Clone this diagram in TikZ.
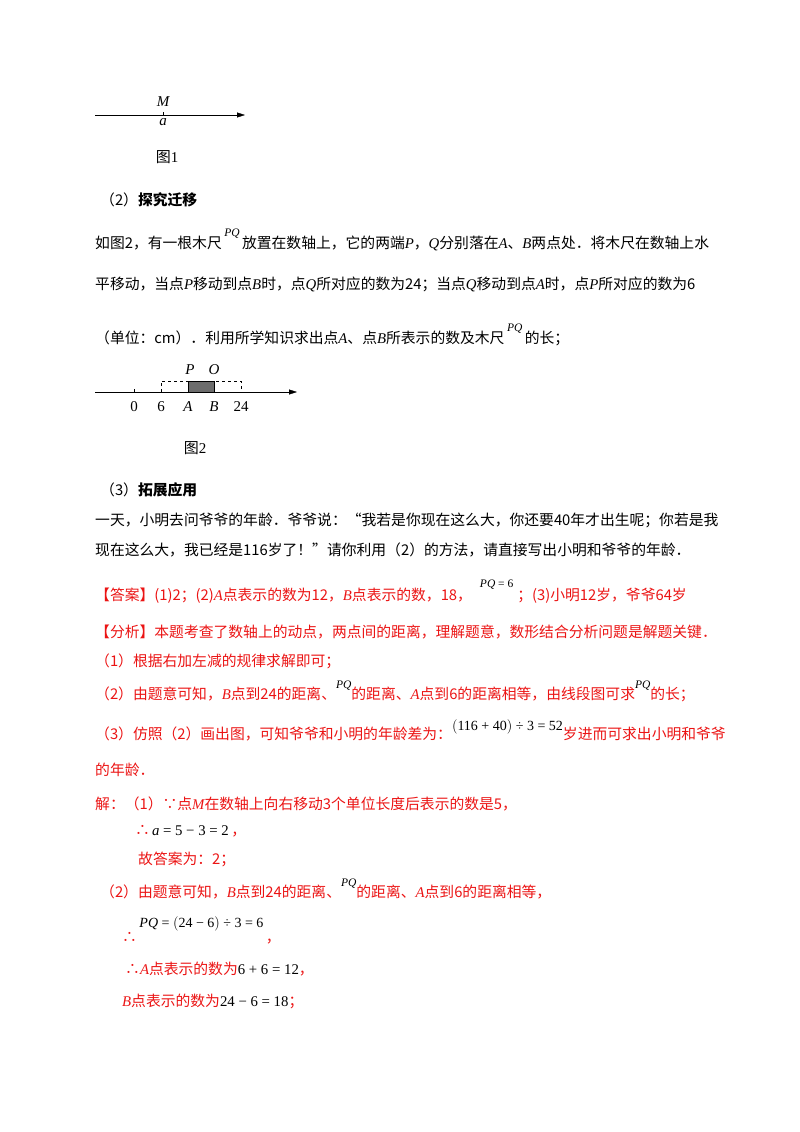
\documentclass[tikz,border=0pt]{standalone}
\usepackage{fontspec}
\usetikzlibrary{arrows.meta}
\setmainfont{Noto Sans CJK SC}
\newfontfamily\tms{Liberation Serif}
\newcommand{\mi}[1]{{\tms\itshape #1}}
\newcommand{\mr}[1]{{\tms #1}}
\newcommand{\up}[2]{\raisebox{#1}{\fontsize{11.5}{12}\tms\color{black}#2}}
\definecolor{ans}{RGB}{235,20,20}
\begin{document}
\begin{tikzpicture}[x=1pt,y=-1pt,
  t/.style={anchor=west,inner sep=0pt,font=\fontsize{14.8}{15}\selectfont},
  r/.style={t,text=ans},
  lab/.style={inner sep=0pt,font=\fontsize{15}{15}\tms},
  arr/.style={-{Triangle[length=8pt,width=5pt]}}]
\useasboundingbox (0,0) rectangle (800,1132);
% figure 1
\coordinate (a0) at (95,115); \coordinate (a1) at (245,115);
\draw[arr] (a0) -- (a1);
\draw (163,112) -- (163,115);
\node[lab] (M) at (163,102) {\itshape M};
\node[lab] (a) at (163,122) {\itshape a};
\node[lab,font=\fontsize{15}{15}\selectfont] (f1) at (167,157) {图\mr{1}};
% text
\node[t] (s2) at (100,200) {（2）\textbf{探究迁移}};
\node[t] (l1) at (95,240) {如图2，有一根木尺\,\up{12pt}{\itshape PQ}\,放置在数轴上，它的两端\mi{P}，\mi{Q}分别落在\mi{A}、\mi{B}两点处．将木尺在数轴上水};
\node[t] (l2) at (95,284) {平移动，当点\mi{P}移动到点\mi{B}时，点\mi{Q}所对应的数为24；当点\mi{Q}移动到点\mi{A}时，点\mi{P}所对应的数为6};
\node[t] (l3) at (95,335) {（单位：cm）．利用所学知识求出点\mi{A}、点\mi{B}所表示的数及木尺\,\up{12pt}{\itshape PQ}\,的长；};
% figure 2
\coordinate (b0) at (95,392); \coordinate (b1) at (297,392);
\draw[dashed] (161,392) -- (161,381) -- (241,381) -- (241,392);
\draw[fill=gray!85!black] (188,381) rectangle (214,392);
\draw[arr] (b0) -- (b1);
\draw (134,389) -- (134,392);
\node[lab] at (134,407) {0};
\node[lab] at (161,407) {6};
\node[lab] at (188,407) {\itshape A};
\node[lab] at (214,407) {\itshape B};
\node[lab] at (241,407) {24};
\node[lab] at (190,370) {\itshape P};
\node[lab] at (214,370) {\itshape O};
\node[lab,font=\fontsize{15}{15}\selectfont] (f2) at (195,448) {图\mr{2}};
\node[t] (s3) at (100,490) {（3）\textbf{拓展应用}};
\node[t] (l4) at (95,520) {一天，小明去问爷爷的年龄．爷爷说：“我若是你现在这么大，你还要40年才出生呢；你若是我};
\node[t] (l5) at (95,550) {现在这么大，我已经是116岁了！”请你利用（2）的方法，请直接写出小明和爷爷的年龄．};
% answer
\node[r] (ansl) at (95,592) {【答案】(1)2；(2)\mi{A}点表示的数为12，\mi{B}点表示的数，18，\hspace{8pt}\up{13pt}{\itshape PQ\upshape\ = 6}\hspace{4pt}；(3)小明12岁，爷爷64岁};
\node[r] (fx) at (95,632) {【分析】本题考查了数轴上的动点，两点间的距离，理解题意，数形结合分析问题是解题关键．};
\node[r] at (95,661) {（1）根据右加左减的规律求解即可；};
\node[r] at (95,691) {（2）由题意可知，\mi{B}点到24的距离、\up{11pt}{\itshape PQ}的距离、\mi{A}点到6的距离相等，由线段图可求\up{11pt}{\itshape PQ}的长；};
\node[r] at (95,730) {（3）仿照（2）画出图，可知爷爷和小明的年龄差为：\up{9pt}{\fontsize{14}{14}\selectfont$\bigl($116 + 40$\bigr)$ ÷ 3 = 52}岁进而可求出小明和爷爷};
\node[r] at (95,770) {的年龄．};
\node[r] at (95,804) {解：（1）∵点\mi{M}在数轴上向右移动3个单位长度后表示的数是5，};
\node[r] at (135,831) {∴\hspace{2pt}\mr{\color{black}\itshape a\upshape\ = 5 − 3 = 2}\,，};
\node[r] at (138,859) {故答案为：2；};
\node[r] at (100,889) {（2）由题意可知，\mi{B}点到24的距离、\up{11pt}{\itshape PQ}的距离、\mi{A}点到6的距离相等，};
\node[r] at (122,930) {∴\,\up{15pt}{\fontsize{14}{14}\selectfont\itshape PQ\upshape\ = $\bigl($24 − 6$\bigr)$ ÷ 3 = 6}\,，};
\node[r] at (125,969) {∴\mi{A}点表示的数为\textcolor{black}{\mr{6 + 6 = 12}}，};
\node[r] at (122,1001) {\mi{B}点表示的数为\textcolor{black}{\mr{24 − 6 = 18}}；};
\end{tikzpicture}
\end{document}
